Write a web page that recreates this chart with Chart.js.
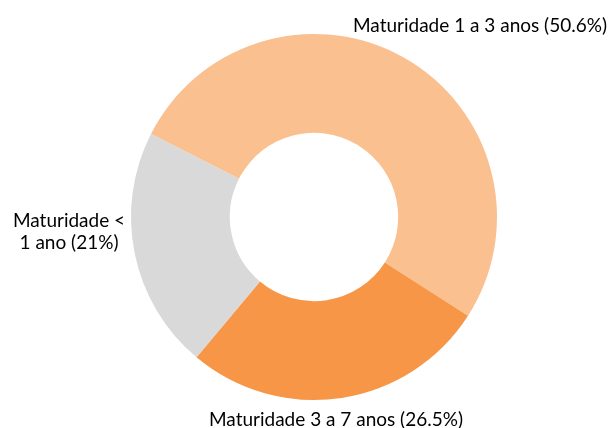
<!DOCTYPE html>
<html>
<head>
<meta charset="utf-8">
<script src="https://cdn.jsdelivr.net/npm/chart.js@4"></script>
<style>
  html, body { margin: 0; padding: 0; background: #ffffff; }
  #wrap { width: 612px; height: 428px; }
</style>
</head>
<body>
<div id="wrap"><canvas id="chart" width="612" height="428"></canvas></div>
<script>
/* --------------- Data --------------------- */
const categories = ["Maturidade 1 a 3 anos", "Maturidade 3 a 7 anos", "Maturidade < 1 ano"];
const shares = [50.6, 26.5, 21];
const labelLines = [
  ["Maturidade 1 a 3 anos (50.6%)"],
  ["Maturidade 3 a 7 anos (26.5%)"],
  ["Maturidade <", "1 ano (21%)"],
];
const sliceColors = ["#FAC090", "#F79646", "#D9D9D9"];

/* --------------- Label placement, relative to the doughnut centre --------------------- */
const labelOffsets = [
  { dx: 166, dy: -185 },
  { dx: 22, dy: 209 },
  { dx: -245, dy: 10 },
];

const outsideLabels = {
  id: "outsideLabels",
  afterDraw(chart) {
    const ctx = chart.ctx;
    const arc = chart.getDatasetMeta(0).data[0];
    ctx.save();
    ctx.fillStyle = "#000000";
    ctx.font = "19px Lato, 'Open Sans', sans-serif";
    ctx.textAlign = "center";
    ctx.textBaseline = "alphabetic";
    labelLines.forEach((lines, i) => {
      const x = arc.x + labelOffsets[i].dx;
      const y = arc.y + labelOffsets[i].dy;
      lines.forEach((line, j) => ctx.fillText(line, x, y + j * 22));
    });
    ctx.restore();
  },
};

new Chart(document.getElementById("chart"), {
  type: "doughnut",
  plugins: [outsideLabels],
  data: {
    labels: categories,
    datasets: [{
      data: shares,
      backgroundColor: sliceColors,
      borderWidth: 0,
    }],
  },
  options: {
    responsive: false,
    animation: false,
    cutout: "46%",
    rotation: -63,
    layout: { padding: { top: 34, bottom: 28, left: 131, right: 115 } },
    plugins: {
      legend: { display: false },
      tooltip: { enabled: false },
    },
  },
});
</script>
</body>
</html>
